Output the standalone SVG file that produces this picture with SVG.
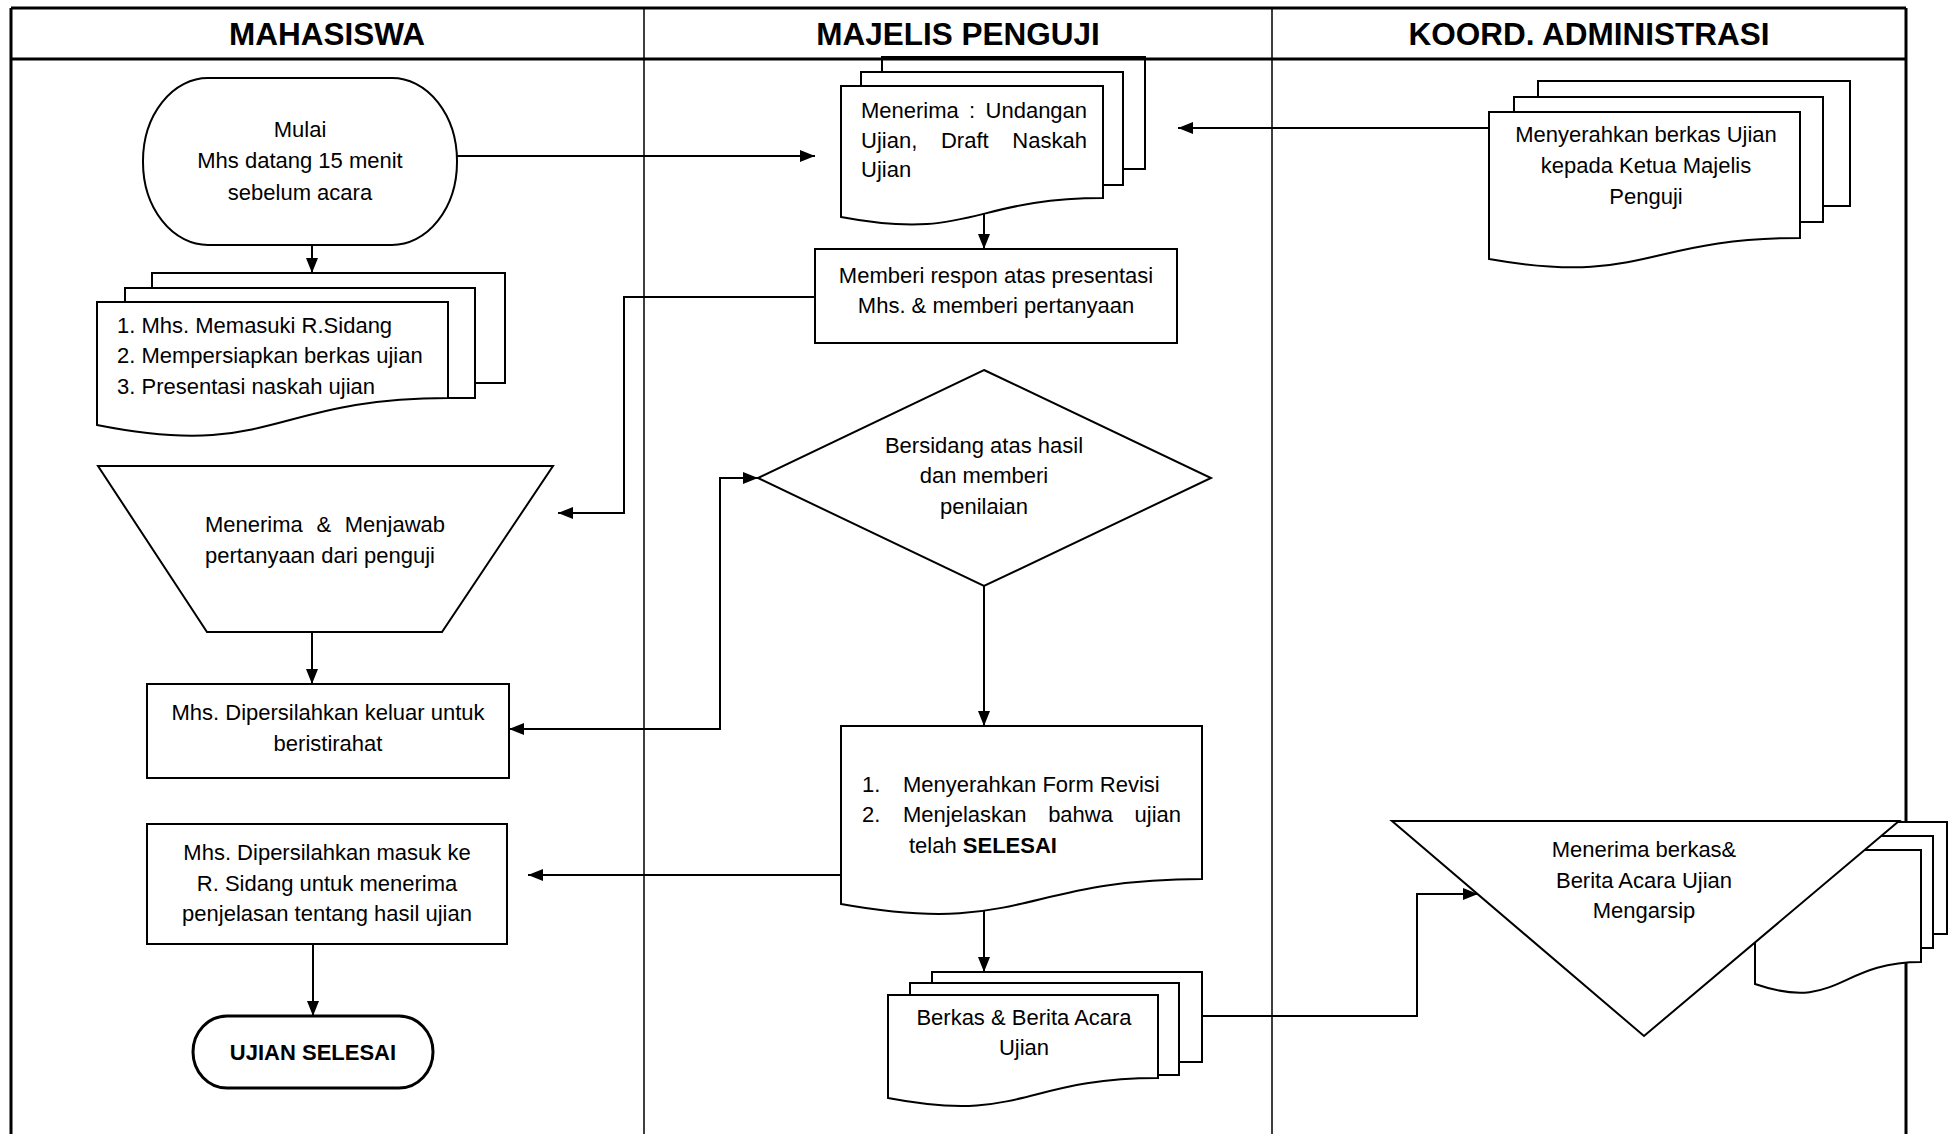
<svg xmlns="http://www.w3.org/2000/svg" width="1953" height="1134" viewBox="0 0 1953 1134">
<style>
.s{fill:#fff;stroke:#000;stroke-width:2}
.t{font-family:"Liberation Sans",Arial,sans-serif;font-size:22px;fill:#000}
.c{text-anchor:middle}
.h{font-family:"Liberation Sans",Arial,sans-serif;font-weight:bold;font-size:31.5px;text-anchor:middle;fill:#000}
.lane{stroke:#000;fill:none}
.conn path{fill:none;stroke:#000;stroke-width:2}
</style>
<defs>
<marker id="arr" viewBox="0 0 15 12" refX="15" refY="6" markerWidth="15" markerHeight="12" markerUnits="userSpaceOnUse" orient="auto-start-reverse">
<path d="M0,0 L15,6 L0,12 Z" fill="#000"/>
</marker>
</defs>
<rect width="1953" height="1134" fill="#fff"/>
<g id="lanes">
<path class="lane" stroke-width="3" d="M11,8 V1134 M1906,8 V1134 M11,8 H1906"/>
<path class="lane" stroke-width="1.5" d="M644,8 V1134 M1272,8 V1134"/>
<text class="h" x="327" y="45">MAHASISWA</text>
<text class="h" x="958" y="45">MAJELIS PENGUJI</text>
<text class="h" x="1589" y="45">KOORD. ADMINISTRASI</text>
</g>

<g id="start">
<rect class="s" x="143" y="78" width="314" height="167" rx="65" ry="83"/>
<text class="t c" x="300" y="137">Mulai</text>
<text class="t c" x="300" y="168">Mhs datang 15 menit</text>
<text class="t c" x="300" y="200">sebelum acara</text>
</g>

<g id="doc-persiapan">
<rect class="s" x="152" y="273" width="353" height="110"/>
<rect class="s" x="125" y="288" width="350" height="110"/>
<path class="s" d="M97,302 H448 V398 C272.5,398 272.5,460 97,425 Z"/>
<text class="t" x="117" y="333">1. Mhs. Memasuki R.Sidang</text>
<text class="t" x="117" y="363">2. Mempersiapkan berkas ujian</text>
<text class="t" x="117" y="394">3. Presentasi naskah ujian</text>
</g>

<g id="menjawab">
<polygon class="s" points="98,466 553,466 442,632 207,632"/>
<text class="t" x="205" y="532" word-spacing="7.5">Menerima &amp; Menjawab</text>
<text class="t" x="205" y="563">pertanyaan dari penguji</text>
</g>

<g id="keluar">
<rect class="s" x="147" y="684" width="362" height="94"/>
<text class="t c" x="328" y="720">Mhs. Dipersilahkan keluar untuk</text>
<text class="t c" x="328" y="751">beristirahat</text>
</g>

<g id="masuk">
<rect class="s" x="147" y="824" width="360" height="120"/>
<text class="t c" x="327" y="860">Mhs. Dipersilahkan masuk ke</text>
<text class="t c" x="327" y="891">R. Sidang untuk menerima</text>
<text class="t c" x="327" y="921">penjelasan tentang hasil ujian</text>
</g>

<g id="selesai">
<rect x="193" y="1016" width="240" height="72" rx="34" ry="36" fill="#fff" stroke="#000" stroke-width="3"/>
<text class="t c" x="313" y="1060" font-weight="bold">UJIAN SELESAI</text>
</g>

<g id="doc-undangan">
<rect class="s" x="882" y="57" width="263" height="112"/>
<rect class="s" x="861" y="72" width="262" height="113"/>
<path class="s" d="M841,86 H1103 V198 C972,198 972,241.7 841,217 Z"/>
<text class="t" x="861" y="118" word-spacing="4.2">Menerima : Undangan</text>
<text class="t" x="861" y="148" word-spacing="17.6">Ujian, Draft Naskah</text>
<text class="t" x="861" y="177">Ujian</text>
</g>

<g id="respon">
<rect class="s" x="815" y="249" width="362" height="94"/>
<text class="t c" x="996" y="283">Memberi respon atas presentasi</text>
<text class="t c" x="996" y="313">Mhs. &amp; memberi pertanyaan</text>
</g>

<g id="bersidang">
<polygon class="s" points="984,370 1211,478 984,586 758,478"/>
<text class="t c" x="984" y="453">Bersidang atas hasil</text>
<text class="t c" x="984" y="483">dan memberi</text>
<text class="t c" x="984" y="514">penilaian</text>
</g>

<g id="doc-revisi">
<path class="s" d="M841,726 H1202 V879 C1021.5,879 1021.5,936.5 841,904 Z"/>
<text class="t" y="792"><tspan x="862">1.</tspan><tspan x="903">Menyerahkan Form Revisi</tspan></text>
<text class="t" y="822"><tspan x="862">2.</tspan><tspan x="903" word-spacing="15.5">Menjelaskan bahwa ujian</tspan></text>
<text class="t" x="909" y="853">telah <tspan font-weight="bold">SELESAI</tspan></text>
</g>

<g id="doc-berkas">
<rect class="s" x="932" y="972" width="270" height="90"/>
<rect class="s" x="910" y="983" width="269" height="92"/>
<path class="s" d="M888,995 H1158 V1078 C1023,1078 1023,1124 888,1098 Z"/>
<text class="t c" x="1024" y="1025">Berkas &amp; Berita Acara</text>
<text class="t c" x="1024" y="1055">Ujian</text>
</g>

<g id="doc-serah">
<rect class="s" x="1538" y="81" width="312" height="125"/>
<rect class="s" x="1514" y="97" width="309" height="125"/>
<path class="s" d="M1489,112 H1800 V238 C1644.5,238 1644.5,286.3 1489,259 Z"/>
<text class="t c" x="1646" y="142">Menyerahkan berkas Ujian</text>
<text class="t c" x="1646" y="173">kepada Ketua Majelis</text>
<text class="t c" x="1646" y="204">Penguji</text>
</g>

<g id="arsip">
<rect class="s" x="1785" y="822" width="162" height="112"/>
<rect class="s" x="1770" y="836" width="163" height="112"/>
<path class="s" d="M1755,850 H1921 V962 C1838,962 1838,1012.6 1755,984 Z"/>
<polygon class="s" points="1392,821 1899,821 1644,1036"/>
<text class="t c" x="1644" y="857">Menerima berkas&amp;</text>
<text class="t c" x="1644" y="888">Berita Acara Ujian</text>
<text class="t c" x="1644" y="918">Mengarsip</text>
</g>

<path id="header-line" class="lane" stroke-width="3" d="M11,59 H1906"/>

<g id="connectors" class="conn">
<path d="M457,156 H815" marker-end="url(#arr)"/>
<path d="M1489,128 H1178" marker-end="url(#arr)"/>
<path d="M312,245 V273" marker-end="url(#arr)"/>
<path d="M984,213 V249" marker-end="url(#arr)"/>
<path d="M815,297 H624 V513 H558" marker-end="url(#arr)"/>
<path d="M758,478 H720 V729 H509" marker-start="url(#arr)" marker-end="url(#arr)"/>
<path d="M312,632 V684" marker-end="url(#arr)"/>
<path d="M984,586 V726" marker-end="url(#arr)"/>
<path d="M841,875 H528" marker-end="url(#arr)"/>
<path d="M984,911 V972" marker-end="url(#arr)"/>
<path d="M1202,1016 H1417 V894 H1478" marker-end="url(#arr)"/>
<path d="M313,944 V1016" marker-end="url(#arr)"/>
</g>
</svg>
